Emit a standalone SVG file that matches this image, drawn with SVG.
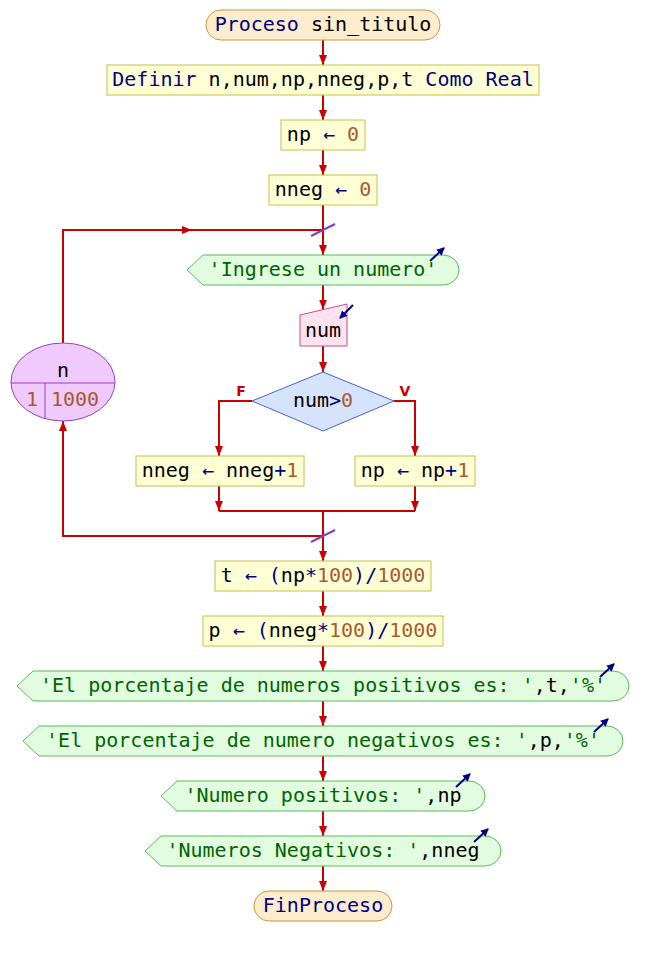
<svg xmlns="http://www.w3.org/2000/svg" width="645" height="956" viewBox="0 0 645 956">
  <defs>
    <marker id="ah" viewBox="0 0 10 8" refX="10" refY="4" markerWidth="10" markerHeight="8" markerUnits="userSpaceOnUse" orient="auto">
      <path d="M0,0 L10,4 L0,8 z" fill="#cc0000"/>
    </marker>
    <marker id="ih" viewBox="0 0 8 8" refX="7" refY="4" markerWidth="8" markerHeight="8" markerUnits="userSpaceOnUse" orient="auto">
      <path d="M0,0 L8,4 L0,8 z" fill="#000080"/>
    </marker>
    <style>
      text { font-family: "DejaVu Sans Mono", "Liberation Mono", monospace; font-size: 20px; fill: #000; text-anchor: middle; }
      .kw { fill: #000080; }
      .num { fill: #a85a2c; }
      .str { fill: #006400; }
      .term { fill: #fdedcf; stroke: #c8963e; stroke-width: 1; }
      .asg { fill: #ffffd6; stroke: #c2c24a; stroke-width: 1; }
      .out { fill: #e2fce0; stroke: #5cb85c; stroke-width: 1; }
      .inp { fill: #fde3ef; stroke: #c0508a; stroke-width: 1; }
      .dec { fill: #d6e3fc; stroke: #4466c4; stroke-width: 1; }
      .loop { fill: #f0cafc; stroke: #9040c4; stroke-width: 1; }
      .icon { stroke: #000080; stroke-width: 2; fill: none; marker-end: url(#ih); }
      .edge { stroke: #cc0000; stroke-width: 2; fill: none; }
      .arr { marker-end: url(#ah); }
      .slash { stroke: #8a3cc8; stroke-width: 2; }
      .lbl { font-family: "DejaVu Sans", "Liberation Sans", sans-serif; font-size: 14px; font-weight: bold; fill: #cc0000; }
    </style>
  </defs>

  <!-- connectors -->
  <g id="connectors">
    <path class="edge arr" d="M323,40 V65"/>
    <path class="edge arr" d="M323,95 V120"/>
    <path class="edge arr" d="M323,150 V175"/>
    <path class="edge arr" d="M323,205 V255"/>
    <path class="edge arr" d="M323,285 V309.5"/>
    <path class="edge arr" d="M323,346 V372"/>
    <path class="edge arr" d="M252,401 H219 V456"/>
    <path class="edge arr" d="M394,401 H415 V456"/>
    <path class="edge arr" d="M219,486 V511"/>
    <path class="edge arr" d="M415,486 V511"/>
    <path class="edge" d="M219,511 H415"/>
    <path class="edge arr" d="M323,511 V561"/>
    <path class="edge arr" d="M323,591 V616"/>
    <path class="edge arr" d="M323,646 V671"/>
    <path class="edge arr" d="M323,701 V726"/>
    <path class="edge arr" d="M323,756 V781"/>
    <path class="edge arr" d="M323,811 V836"/>
    <path class="edge arr" d="M323,866 V891"/>
    <!-- loop return and re-entry -->
    <path class="edge arr" d="M323,536 H63 V421"/>
    <path class="edge arr" d="M63,343 V230 H192"/>
    <path class="edge" d="M190,230 H323"/>
    <line class="slash" x1="311" y1="236" x2="335" y2="224"/>
    <line class="slash" x1="311" y1="542" x2="335" y2="530"/>
    <text class="lbl" x="241" y="396">F</text>
    <text class="lbl" x="405" y="396">V</text>
  </g>

  <g id="inicio">
    <rect class="term" x="206" y="10" width="234" height="30" rx="15" ry="15"/>
    <text x="323" y="31"><tspan class="kw">Proceso</tspan> sin_titulo</text>
  </g>

  <g id="definir">
    <rect class="asg" x="107" y="65" width="432" height="30"/>
    <text x="323" y="86"><tspan class="kw">Definir</tspan> n,num,np,nneg,p,t <tspan class="kw">Como Real</tspan></text>
  </g>

  <g id="np0">
    <rect class="asg" x="281" y="120" width="84" height="30"/>
    <text x="323" y="141">np <tspan class="kw">←</tspan> <tspan class="num">0</tspan></text>
  </g>

  <g id="nneg0">
    <rect class="asg" x="269" y="175" width="108" height="30"/>
    <text x="323" y="196">nneg <tspan class="kw">←</tspan> <tspan class="num">0</tspan></text>
  </g>

  <g id="para">
    <ellipse class="loop" cx="63" cy="382" rx="52" ry="39"/>
    <line x1="11" y1="383" x2="115" y2="383" stroke="#9040c4" stroke-width="1"/>
    <line x1="45" y1="383" x2="45" y2="419" stroke="#9040c4" stroke-width="1"/>
    <text x="63" y="377">n</text>
    <text class="num" x="32" y="406">1</text>
    <text class="num" x="75" y="406">1000</text>
  </g>

  <g id="escribir-ingrese">
    <path class="out" d="M187,270 L203,255 H443 A16,15 0 0 1 443,285 H203 Z"/>
    <text x="323" y="276"><tspan class="str">'Ingrese un numero'</tspan></text>
    <path class="icon" d="M430,261 L444,248"/>
  </g>

  <g id="leer-num">
    <path class="inp" d="M300,315 L347,304 V346 H300 Z"/>
    <text x="323" y="337">num</text>
    <path class="icon" d="M353,305 L340,318"/>
  </g>

  <g id="si-num">
    <path class="dec" d="M323,372 L394,401 L323,431 L252,401 Z"/>
    <text x="323" y="407">num<tspan class="kw">&gt;</tspan><tspan class="num">0</tspan></text>
  </g>

  <g id="nneg-inc">
    <rect class="asg" x="136" y="456" width="168" height="30"/>
    <text x="220" y="477">nneg <tspan class="kw">←</tspan> nneg<tspan class="kw">+</tspan><tspan class="num">1</tspan></text>
  </g>

  <g id="np-inc">
    <rect class="asg" x="355" y="456" width="120" height="30"/>
    <text x="415" y="477">np <tspan class="kw">←</tspan> np<tspan class="kw">+</tspan><tspan class="num">1</tspan></text>
  </g>

  <g id="calc-t">
    <rect class="asg" x="215" y="561" width="216" height="30"/>
    <text x="323" y="582">t <tspan class="kw">← (</tspan>np<tspan class="kw">*</tspan><tspan class="num">100</tspan><tspan class="kw">)/</tspan><tspan class="num">1000</tspan></text>
  </g>

  <g id="calc-p">
    <rect class="asg" x="203" y="616" width="240" height="30"/>
    <text x="323" y="637">p <tspan class="kw">← (</tspan>nneg<tspan class="kw">*</tspan><tspan class="num">100</tspan><tspan class="kw">)/</tspan><tspan class="num">1000</tspan></text>
  </g>

  <g id="escribir-pos">
    <path class="out" d="M17,686 L33,671 H613 A16,15 0 0 1 613,701 H33 Z"/>
    <text x="323" y="692"><tspan class="str">'El porcentaje de numeros positivos es: '</tspan>,t,<tspan class="str">'%'</tspan></text>
    <path class="icon" d="M600,677 L614,664"/>
  </g>

  <g id="escribir-neg">
    <path class="out" d="M23,741 L39,726 H607 A16,15 0 0 1 607,756 H39 Z"/>
    <text x="323" y="747"><tspan class="str">'El porcentaje de numero negativos es: '</tspan>,p,<tspan class="str">'%'</tspan></text>
    <path class="icon" d="M594,732 L608,719"/>
  </g>

  <g id="escribir-np">
    <path class="out" d="M161,796 L177,781 H469 A16,15 0 0 1 469,811 H177 Z"/>
    <text x="323" y="802"><tspan class="str">'Numero positivos: '</tspan>,np</text>
    <path class="icon" d="M456,787 L470,774"/>
  </g>

  <g id="escribir-nneg">
    <path class="out" d="M145,851 L161,836 H485 A16,15 0 0 1 485,866 H161 Z"/>
    <text x="323" y="857"><tspan class="str">'Numeros Negativos: '</tspan>,nneg</text>
    <path class="icon" d="M474,842 L488,829"/>
  </g>

  <g id="fin">
    <rect class="term" x="254" y="891" width="138" height="30" rx="15" ry="15"/>
    <text x="323" y="912" class="kw">FinProceso</text>
  </g>
</svg>
